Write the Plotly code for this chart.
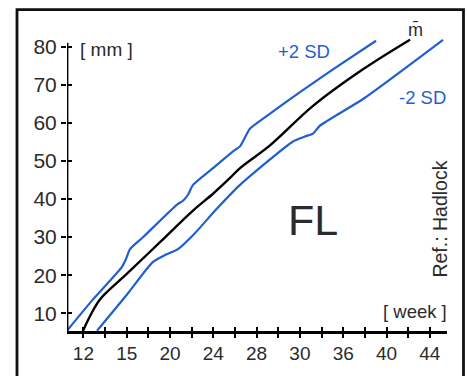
import plotly.graph_objects as go

# x values are positions along the (irregularly labelled) week axis: label k sits at position k
week_labels = ["12", "15", "20", "24", "28", "30", "36", "40", "44"]
label_pos = list(range(len(week_labels)))
minor_tick_pos = [i * 0.5 for i in range(0, 17)]
mm_ticks = [10, 20, 30, 40, 50, 60, 70, 80]

plus2_x = [-0.38, 0.222, 0.891, 0.984, 1.076, 1.376, 2.162, 2.300, 2.416, 2.531, 2.993,
           3.455, 3.617, 3.778, 3.848, 4.240, 5.002, 5.764, 6.758]
plus2_y = [5.4, 13.63, 22.18, 24.26, 26.85, 29.96, 38.52, 39.55, 41.11, 43.70, 48.11,
           52.52, 53.81, 57.18, 58.48, 61.85, 68.07, 74.04, 81.56]

mean_x = [-0.009, 0.152, 0.383, 1.007, 1.769, 2.531, 2.993, 3.386, 3.617, 4.309,
          5.303, 6.457, 7.543]
mean_y = [5.4, 9.22, 13.63, 20.37, 28.66, 36.96, 41.37, 45.52, 48.11, 54.07,
          64.44, 74.04, 81.81]

minus2_x = [0.314, 1.007, 1.607, 1.885, 2.185, 2.531, 3.085, 3.617, 4.841, 5.118, 5.303,
            5.464, 6.457, 8.305]
minus2_y = [5.4, 14.92, 23.48, 25.29, 26.85, 30.48, 37.48, 43.70, 55.11, 56.41, 57.18,
            59.26, 66.26, 81.81]

BLUE = "#1f5fcf"
TXT = "#2b2b2b"
FONT = "Liberation Sans, Arial, sans-serif"
XR = [-0.379, 8.397]
YR = [5.333, 87.0]

fig = go.Figure()
fig.add_trace(go.Scatter(x=plus2_x, y=plus2_y, mode="lines",
                         line=dict(color=BLUE, width=2.2, shape="spline", smoothing=0.6)))
fig.add_trace(go.Scatter(x=minus2_x, y=minus2_y, mode="lines",
                         line=dict(color=BLUE, width=2.2, shape="spline", smoothing=0.6)))
fig.add_trace(go.Scatter(x=mean_x, y=mean_y, mode="lines",
                         line=dict(color="black", width=2.4, shape="spline", smoothing=1.0)))
# dummy trace for overlay axes (crossing ticks)
fig.add_trace(go.Scatter(x=[None], y=[None], xaxis="x2", yaxis="y2", mode="lines"))

tick_text_minor = [week_labels[int(v)] if v == int(v) else "" for v in minor_tick_pos]

fig.update_layout(
    width=467, height=376,
    margin=dict(l=67, r=20, t=20, b=41),
    paper_bgcolor="white", plot_bgcolor="white",
    showlegend=False,
    hovermode=False,
    font=dict(family=FONT, color=TXT),
    xaxis=dict(range=XR, showgrid=False, zeroline=False,
               showline=True, linecolor="black", linewidth=2.5,
               tickmode="array", tickvals=minor_tick_pos, ticktext=tick_text_minor,
               ticks="outside", ticklen=4, tickwidth=2, tickcolor="black",
               tickfont=dict(size=19, color=TXT, family=FONT)),
    yaxis=dict(range=YR, showgrid=False, zeroline=False, showline=False,
               tickmode="array", tickvals=mm_ticks,
               ticks="outside", ticklen=5, tickwidth=2.2, tickcolor="black",
               tickfont=dict(size=21, color=TXT, family=FONT)),
    xaxis2=dict(range=XR, overlaying="x", anchor="y2", side="bottom",
                showgrid=False, zeroline=False, showline=False,
                tickmode="array", tickvals=minor_tick_pos, showticklabels=False,
                ticks="inside", ticklen=4, tickwidth=2, tickcolor="black"),
    yaxis2=dict(range=YR, overlaying="y", anchor="x2", side="left",
                showgrid=False, zeroline=False, showline=False,
                tickmode="array", tickvals=mm_ticks, showticklabels=False,
                ticks="inside", ticklen=5, tickwidth=2.2, tickcolor="black"),
)

# y axis line (stops at the 80 mm tick)
fig.add_shape(type="line", xref="x", yref="y", x0=XR[0], x1=XR[0], y0=YR[0], y1=81.0,
              line=dict(color="black", width=2.8))
# outer frame
fig.add_shape(type="rect", xref="paper", yref="paper",
              x0=(17 - 67) / 380, x1=(463.5 - 67) / 380,
              y0=-0.2, y1=(335 - 9.5) / 315,
              line=dict(color="#111111", width=2.8))

def ann(text, x, y, size, color=TXT, xanchor="center", angle=0):
    fig.add_annotation(text=text, x=x, y=y, xref="x", yref="y", showarrow=False,
                       xanchor=xanchor, yanchor="middle", textangle=angle,
                       font=dict(size=size, color=color, family=FONT))

ann("[ mm ]", -0.125, 79.2, 19, xanchor="left")
ann("+2 SD", 5.092, 78.7, 18.5, color=BLUE)
ann("-2 SD", 7.831, 66.78, 18.5, color=BLUE)
ann("m\u0304", 7.658, 84.4, 18)
ann("FL", 5.291, 34.37, 43)
ann("[ week ]", 7.647, 10.52, 18.5)
ann("Ref.: Hadlock", 8.236, 34.6, 19.5, angle=-90)

fig.write_html("out.html", config={"displayModeBar": False, "staticPlot": True},
               post_script="document.body.style.margin='0';document.body.style.overflow='hidden';")
